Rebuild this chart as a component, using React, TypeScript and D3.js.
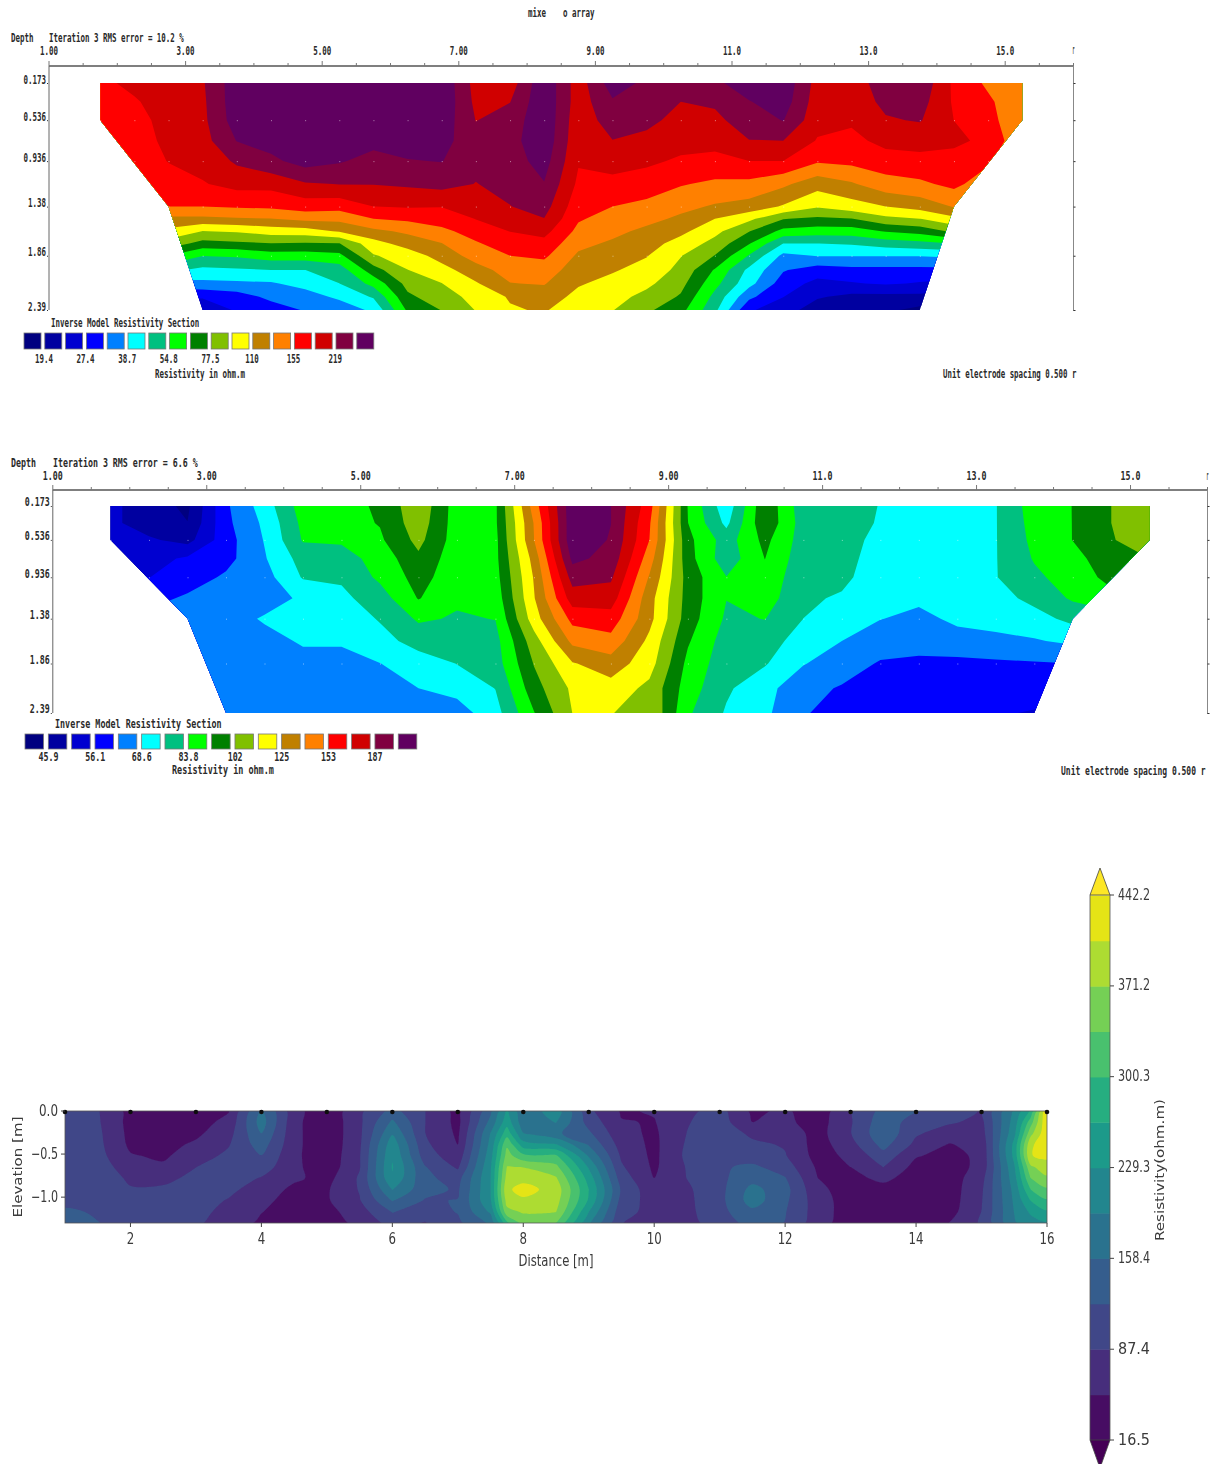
import * as React from 'react';
import * as d3 from 'd3';

const WIDTH = 1224;
const HEIGHT = 1464;

// RES2DINV palette, lowest band first
const rainbow = ['#000080', '#0000a0', '#0000d0', '#0000ff', '#0080ff', '#00ffff', '#00c080', '#00ff00', '#008000', '#80c000', '#ffff00', '#c08000', '#ff8000', '#ff0000', '#d00000', '#800040', '#600060'];

const depthTicks = [0.173, 0.536, 0.936, 1.38, 1.86, 2.39];
const distanceTicks = [1, 3, 5, 7, 9, 11, 13, 15];
const distanceLabels = ['1.00', '3.00', '5.00', '7.00', '9.00', '11.0', '13.0', '15.0'];
const modelColumns = d3.range(1.75, 15.5, 0.5);
// left and right edge of the model section, [distance, depth]
const modelOutline = [[1.75, 0.173], [15.25, 0.173], [15.25, 0.536], [14.25, 1.38], [13.75, 2.39], [3.25, 2.39], [2.75, 1.38], [1.75, 0.536]];

const topLabels = [19.4, 27.4, 38.7, 54.8, 77.5, 110, 155, 219];
const topDepths = [0.173, 0.355, 0.536, 0.736, 0.936, 1.16, 1.38, 1.5, 1.62, 1.74, 1.86, 2.0, 2.13, 2.26, 2.39];
// resistivity per model column, shallow to deep
const topGrid = [
  [175, 172, 168, 165, 162, 160, 158, 130, 110, 90, 70, 50, 40, 32, 28],
  [195, 180, 170, 165, 160, 158, 150, 125, 105, 85, 65, 48, 38, 30, 26],
  [205, 205, 200, 195, 186, 165, 155, 125, 105, 85, 65, 48, 36, 28, 24],
  [215, 212, 210, 205, 195, 182, 155, 125, 92, 73, 55, 44, 37, 28, 24],
  [290, 290, 285, 262, 225, 195, 158, 128, 94, 75, 56, 45, 37.5, 30, 28],
  [300, 300, 295, 280, 250, 195, 160, 130, 100, 77, 60, 46, 38, 34, 30],
  [305, 305, 300, 295, 280, 215, 168, 137, 102, 76, 60, 46, 41, 36, 33],
  [305, 305, 300, 290, 265, 220, 165, 137, 112, 77, 62, 50, 46, 40, 35],
  [305, 305, 295, 275, 245, 220, 184, 155, 125, 103, 91, 72, 58, 47, 40],
  [310, 305, 295, 280, 258, 225, 187, 160, 135, 118, 100, 92, 82, 75, 67],
  [300, 300, 290, 275, 262, 232, 185, 170, 148, 130, 118, 103, 92, 85, 78],
  [205, 210, 218, 235, 228, 218, 190, 185, 168, 152, 140, 122, 108, 98, 93],
  [200, 218, 235, 245, 240, 230, 218, 200, 185, 170, 155, 140, 130, 112, 108],
  [300, 300, 300, 295, 280, 258, 235, 218, 195, 175, 160, 142, 132, 120, 112],
  [200, 200, 195, 192, 187, 178, 165, 158, 148, 137, 127, 120, 112, 105, 98],
  [285, 255, 240, 218, 198, 175, 155, 145, 137, 127, 120, 112, 104, 98, 93],
  [250, 240, 228, 210, 190, 170, 148, 138, 125, 118, 111, 103, 96, 88, 80],
  [245, 219, 208, 195, 180, 157, 137, 126, 115, 103, 93, 88, 82, 76, 69],
  [250, 225, 210, 195, 175, 150, 128, 110, 97, 87, 77, 64, 58, 52, 48],
  [290, 258, 240, 218, 184, 148, 122, 96, 78, 66, 54, 44, 41, 34, 28],
  [295, 285, 262, 219, 184, 135, 108, 78, 62, 46, 37, 33, 30, 27.5, 25],
  [205, 200, 195, 182, 158, 118, 94, 75, 60, 46, 39, 30, 26, 23.5, 21],
  [200, 195, 190, 175, 162, 128, 102, 77, 60, 47, 39, 31, 27, 22, 20],
  [240, 230, 215, 195, 170, 145, 110, 88, 66, 50, 39, 31, 28, 22, 20],
  [250, 235, 222, 195, 176, 150, 118, 92, 70, 52, 39, 31, 27, 22, 18.5],
  [178, 180, 184, 192, 172, 162, 132, 105, 80, 55, 40, 31, 26, 21, 18],
  [150, 160, 162, 176, 160, 140, 120, 100, 78, 55, 40, 31, 26, 21, 18],
  [135, 135, 140, 135, 130, 120, 110, 95, 75, 55, 40, 31, 26, 21, 18],
];

const midLabels = [45.9, 56.1, 68.6, 83.8, 102, 125, 153, 187];
const midDepths = [0.173, 0.355, 0.536, 0.736, 0.936, 1.16, 1.38, 1.62, 1.86, 2.125, 2.39];
const midGrid = [
  [52, 52, 54, 56, 60, 63, 64, 64, 64, 64, 64],
  [48, 48, 51.5, 54, 56, 60, 64, 64, 64, 64, 64],
  [45, 46, 49, 57, 59, 63, 65, 65, 65, 65, 65],
  [61, 60.5, 59.5, 60, 63, 65, 65, 65, 65, 65, 65],
  [72, 70, 69, 68, 66, 65, 69.5, 66, 64.5, 64, 64],
  [88, 86, 84.5, 79, 76.5, 70, 71, 69.5, 66, 64.5, 64],
  [90, 89, 85, 80.5, 77, 74, 71, 69.5, 66, 64, 63],
  [93.5, 93, 91, 87, 85.5, 80, 76.5, 73, 68.5, 64.5, 63],
  [110, 108, 105, 100, 96, 93, 85, 79, 72, 68.6, 65],
  [88, 88, 88, 87, 87, 85, 83, 80, 76, 71, 65.5],
  [91, 91, 90, 90, 89, 87, 84, 81, 80, 76, 73],
  [145, 139, 138, 130, 126, 124, 119, 108, 102.5, 98, 92],
  [222, 222, 222, 212, 195, 178, 158, 142, 124, 115, 113],
  [207, 207, 205, 200, 190, 178, 162, 148, 132, 120, 113],
  [160, 155, 153, 145, 137, 130, 129, 122, 118, 110, 112],
  [92, 92.6, 95, 96, 98, 98, 97, 93.5, 90, 88, 85],
  [71, 74, 80, 79, 84, 84, 82.5, 80, 79, 77, 75],
  [100, 100, 95, 92.6, 90, 88, 84, 80, 76.5, 71, 70],
  [79, 80, 80, 79, 78, 77, 75.8, 72, 69, 64, 62.6],
  [80, 80, 80, 79, 77.5, 75, 72, 68.6, 65, 61.5, 59.5],
  [75.5, 75, 73, 72, 72, 71, 68.8, 65, 61.5, 58.5, 58],
  [72, 72, 72, 72, 71, 70, 66.8, 65, 60.5, 58, 57.5],
  [72, 72, 72, 72, 72, 71, 70, 66, 60.5, 58.5, 57.5],
  [75.5, 75.5, 75.5, 75.5, 75.5, 73, 71, 67, 61, 58.5, 56.5],
  [88, 87, 86, 84.5, 82, 78, 73, 68, 61.5, 58, 55.8],
  [92.6, 92.6, 92.6, 90, 88, 85, 78, 70, 62, 58, 55],
  [102, 102, 101, 97, 95, 90, 80, 70, 62, 58, 55],
  [112, 112, 110, 102, 96, 90, 80, 70, 62, 58, 55],
];

const lowColumns = [1, 1.5, 2, 2.5, 3, 3.5, 4, 4.5, 5, 5.5, 6, 6.5, 7, 7.5, 7.75, 8, 8.5, 9, 9.5, 10, 10.5, 11, 11.5, 12, 12.5, 13, 13.5, 14, 14.5, 15, 15.5, 15.75, 16];
const lowElevations = [0, -0.13, -0.26, -0.39, -0.52, -0.65, -0.78, -0.91, -1.04, -1.17, -1.3];
const lowGrid = [
  [105, 105, 105, 105, 105, 105, 105, 105, 110, 130, 140],
  [90, 92, 95, 97, 100, 104, 107, 107, 110, 118, 124],
  [40, 40, 42, 45, 55, 70, 82, 90, 100, 105, 105],
  [34, 34, 36, 40, 46, 58, 80, 92, 100, 105, 108],
  [36, 38, 45, 58, 72, 87, 95, 100, 102, 100, 93],
  [50, 62, 75, 85, 95, 105, 105, 95, 85, 75, 70],
  [165, 175, 158, 140, 122, 105, 85, 72, 60, 53, 46],
  [65, 62, 62, 62, 60, 60, 58, 44, 40, 38, 36],
  [24, 24, 24, 24, 26, 30, 40, 48, 48, 40, 34],
  [80, 80, 80, 82, 85, 85, 92, 90, 85, 72, 62],
  [135, 165, 190, 215, 225, 232, 225, 195, 160, 125, 100],
  [88, 88, 88, 95, 105, 125, 130, 135, 120, 105, 85],
  [40, 42, 46, 52, 65, 82, 110, 118, 124, 125, 115],
  [150, 170, 195, 205, 215, 225, 228, 228, 225, 200, 165],
  [235, 250, 285, 330, 350, 372, 385, 400, 385, 360, 290],
  [165, 172, 195, 245, 310, 370, 395, 420, 400, 375, 350],
  [215, 195, 165, 232, 305, 345, 375, 392, 385, 372, 335],
  [95, 110, 130, 155, 190, 225, 250, 265, 260, 230, 200],
  [48, 54, 62, 72, 82, 92, 105, 118, 110, 100, 88],
  [55, 50, 46, 44, 44, 46, 52, 62, 70, 75, 78],
  [80, 85, 88, 92, 95, 90, 88, 82, 80, 78, 75],
  [100, 105, 110, 112, 112, 118, 115, 112, 112, 112, 105],
  [45, 52, 80, 95, 105, 130, 145, 170, 175, 150, 135],
  [58, 60, 75, 84, 90, 105, 125, 135, 130, 125, 122],
  [30, 36, 38, 36, 38, 46, 52, 60, 68, 70, 66],
  [84, 84, 86, 75, 60, 52, 42, 36, 34, 33, 33],
  [135, 145, 150, 135, 110, 88, 60, 40, 35, 33, 33],
  [125, 105, 92, 78, 55, 40, 36, 33, 33, 33, 33],
  [105, 92, 70, 50, 40, 35, 33, 33, 34, 38, 52],
  [85, 78, 72, 62, 60, 62, 75, 82, 85, 88, 92],
  [200, 210, 220, 240, 240, 225, 215, 205, 200, 195, 190],
  [270, 320, 360, 400, 405, 365, 335, 300, 265, 235, 215],
  [445, 440, 435, 430, 415, 390, 365, 330, 295, 260, 225],
];
const colorbarTicks = [16.5, 87.4, 158.4, 229.3, 300.3, 371.2, 442.2];
const lowXTicks = [2, 4, 6, 8, 10, 12, 14, 16];
const lowYTicks = [0, -0.5, -1];
const electrodes = d3.range(1, 17);

// the section labels only mark every second contour level
const fillLevels = (labels: number[]) => {
  const step = Math.sqrt(labels[7] / labels[6]);
  return labels.flatMap((v, i) => [v, i < 7 ? Math.sqrt(v * labels[i + 1]) : v * step]);
};

const bandPaths = (grid: number[][], levels: number[], xAt: (d: number) => number, yAt: (d: number) => number, curve: any, transform: (v: number) => number) => {
  const w = grid.length;
  const h = grid[0].length;
  const values = d3.range(h).flatMap(r => grid.map(col => transform(col[r])));
  const contours = d3.contours().size([w, h]).thresholds(levels.map(transform))(values);
  const line = d3.line().curve(curve);
  return contours.map(c =>
    c.coordinates
      .flat(1)
      .map(ring => line(ring.slice(0, -1).map(p => [xAt(p[0] - 0.5), yAt(p[1] - 0.5)] as [number, number])))
      .join(''),
  );
};

// narrow bitmap-looking text: DejaVu Sans Mono squeezed to the char width in the picture
const Mono = ({ x, y, text, charW, anchor = 'start', size = 12 }: any) => {
  const len = text.length * charW;
  const left = anchor === 'middle' ? x - len / 2 : anchor === 'end' ? x - len : x;
  return (
    <text transform={`translate(${left},${y}) scale(${charW / (size * 0.602)},1)`} fontFamily="'DejaVu Sans Mono'" fontWeight={700} fontSize={size} fill="#2a2a2a" dominantBaseline="middle">
      {text}
    </text>
  );
};

const Section = ({ id, grid, depths, labels, xRange, yRange, iteration, head, lg, charW }: any) => {
  const x = d3.scaleLinear().domain([1, 16]).range(xRange);
  const y = d3.scaleLinear().domain([0.173, 2.39]).range(yRange);
  const levels = fillLevels(labels);
  const xAt = d3.scaleLinear().domain(d3.range(modelColumns.length)).range(modelColumns.map(d => x(d)));
  const yAt = d3.scaleLinear().domain(d3.range(depths.length)).range(depths.map((d: number) => y(d)));
  const paths = bandPaths(grid, levels, xAt, yAt, d3.curveLinearClosed, Math.log);
  const outline = modelOutline.map(([a, b]) => [x(a), y(b)] as [number, number]);
  const axisY = head.axisY;
  return (
    <g>
      <clipPath id={id}>
        <polygon points={outline.map(p => p.join(',')).join(' ')} />
      </clipPath>
      <g clipPath={`url(#${id})`}>
        <rect x={xRange[0]} y={yRange[0]} width={xRange[1] - xRange[0]} height={yRange[1] - yRange[0]} fill={rainbow[0]} />
        {paths.map((d, i) => (
          <path key={i} d={d} fill={rainbow[i + 1]} fillRule="evenodd" />
        ))}
      </g>
      {depthTicks.slice(1, 5).flatMap(dp =>
        modelColumns
          .filter(c => d3.polygonContains(outline, [x(c), y(dp)]))
          .map(c => <rect key={`${dp}-${c}`} x={x(c)} y={y(dp)} width={1} height={1} fill="#fff" opacity={0.5} />),
      )}
      <Mono x={11} y={head.textY} text="Depth" charW={charW} />
      <Mono x={head.iterX} y={head.textY} text={iteration} charW={charW} />
      <line x1={xRange[0]} x2={xRange[1]} y1={axisY} y2={axisY} stroke="#555" strokeWidth={1.3} />
      <line x1={xRange[0]} x2={xRange[0]} y1={axisY} y2={yRange[1]} stroke="#666" />
      <line x1={xRange[1]} x2={xRange[1]} y1={axisY} y2={yRange[1] + 1} stroke="#888" />
      {d3.range(1, 16.01, 0.5).map(t => (
        <line key={t} x1={x(t)} x2={x(t)} y1={axisY} y2={axisY - (t % 2 === 1 ? 5 : 3)} stroke="#777" />
      ))}
      {distanceTicks.map((t, i) => (
        <Mono key={t} x={x(t)} y={head.tickY} text={distanceLabels[i]} charW={charW} anchor="middle" />
      ))}
      <Mono x={xRange[1] - 1} y={head.tickY} text="r" charW={2} />
      {depthTicks.map((t, i) => (
        <g key={t}>
          <Mono x={xRange[0] - 3} y={y(t) - head.depthLift} text={t.toFixed(i >= 3 ? 2 : 3)} charW={charW} anchor="end" />
          <rect x={xRange[0] - 2} y={y(t)} width={1} height={1} fill="#333" />
          <rect x={xRange[1]} y={y(t)} width={2} height={1} fill="#333" />
        </g>
      ))}
      <Mono x={lg.titleX} y={lg.titleY} text="Inverse Model Resistivity Section" charW={lg.titleW} />
      {rainbow.map((c, i) => (
        <rect key={c} x={lg.x + i * lg.step} y={lg.y} width={lg.w} height={lg.h} fill={c} stroke="#777" strokeWidth={0.8} />
      ))}
      {labels.map((v: number, i: number) => (
        <Mono key={v} x={lg.x + lg.w + lg.step * (2 * i) + lg.labelDx} y={lg.labelY} text={String(v)} charW={charW} anchor="middle" />
      ))}
      <Mono x={lg.unitX} y={lg.unitY} text="Resistivity in ohm.m" charW={lg.unitW} />
      <Mono x={lg.spacingX} y={lg.unitY} text="Unit electrode spacing 0.500 r" charW={lg.spacingW} />
    </g>
  );
};

const Squeezed = ({ x, y, text, width, anchor = 'middle', size = 15, rotate }: any) => (
  <text
    x={rotate ? undefined : x}
    y={rotate ? undefined : y}
    transform={rotate ? `translate(${x},${y}) rotate(-90)` : undefined}
    textLength={width}
    lengthAdjust="spacingAndGlyphs"
    textAnchor={anchor}
    dominantBaseline="middle"
    fontFamily="'DejaVu Sans'"
    fontSize={size}
    fill="#3a3a3a"
  >
    {text}
  </text>
);

const LowerPanel = () => {
  const x = d3.scaleLinear().domain([1, 16]).range([65, 1047]);
  const y = d3.scaleLinear().domain([0, -1.3]).range([1111, 1223]);
  const xAt = d3.scaleLinear().domain(d3.range(lowColumns.length)).range(lowColumns.map(d => x(d)));
  const yAt = d3.scaleLinear().domain(d3.range(lowElevations.length)).range(lowElevations.map(d => y(d)));
  const step = (colorbarTicks[1] - colorbarTicks[0]) / 2;
  const edges = d3.range(13).map(i => colorbarTicks[0] + i * step);
  const color = (i: number) => d3.interpolateViridis((i + 0.5) / 12);
  const paths = bandPaths(lowGrid, edges.slice(1, 12), xAt, yAt, d3.curveCatmullRomClosed.alpha(0.5), v => v);
  const cb = d3.scaleLinear().domain([16.5, 442.2]).range([1440, 895]);
  return (
    <g filter="url(#soft)">
      <clipPath id="lowClip">
        <rect x={x(1)} y={y(0)} width={x(16) - x(1)} height={y(-1.3) - y(0)} />
      </clipPath>
      <g clipPath="url(#lowClip)">
        <rect x={x(1)} y={y(0)} width={x(16) - x(1)} height={y(-1.3) - y(0)} fill={color(0)} />
        {paths.map((d, i) => (
          <path key={i} d={d} fill={color(i + 1)} fillRule="evenodd" />
        ))}
      </g>
      <rect x={x(1)} y={y(0)} width={x(16) - x(1)} height={y(-1.3) - y(0)} fill="none" stroke="#555" strokeWidth={0.8} />
      {electrodes.map(e => (
        <circle key={e} cx={x(e)} cy={y(0) + 1} r={2.3} fill="#111" />
      ))}
      {lowXTicks.map(t => (
        <g key={t}>
          <line x1={x(t)} x2={x(t)} y1={y(-1.3)} y2={y(-1.3) + 4} stroke="#444" />
          <Squeezed x={x(t)} y={1239} text={String(t)} width={t > 9 ? 15 : 7.5} />
        </g>
      ))}
      {lowYTicks.map(t => (
        <g key={t}>
          <line x1={x(1) - 4} x2={x(1)} y1={y(t)} y2={y(t)} stroke="#444" />
          <Squeezed x={58} y={y(t)} text={t === 0 ? '0.0' : `\u2212${Math.abs(t).toFixed(1)}`} width={t === 0 ? 19 : 27} anchor="end" />
        </g>
      ))}
      <Squeezed x={556} y={1261} text="Distance [m]" width={75} />
      <Squeezed x={18} y={1167} text="Elevation [m]" width={101} size={13} rotate />
      {edges.slice(0, 12).map((v, i) => (
        <rect key={v} x={1090} y={cb(edges[i + 1])} width={20} height={cb(edges[i]) - cb(edges[i + 1]) + 0.5} fill={color(i)} />
      ))}
      <path d={`M1090,${cb(442.2)} L1100,868 L1110,${cb(442.2)} Z`} fill="#fde725" stroke="#444" strokeWidth={0.8} />
      <path d={`M1090,${cb(16.5)} L1100,1468 L1110,${cb(16.5)} Z`} fill="#440154" stroke="#444" strokeWidth={0.8} />
      <line x1={1090} x2={1090} y1={cb(442.2)} y2={cb(16.5)} stroke="#555" strokeWidth={0.8} />
      <line x1={1110} x2={1110} y1={cb(442.2)} y2={cb(16.5)} stroke="#555" strokeWidth={0.8} />
      {colorbarTicks.map(t => (
        <g key={t}>
          <line x1={1110} x2={1114} y1={cb(t)} y2={cb(t)} stroke="#444" />
          <Squeezed x={1118} y={cb(t)} text={String(t)} width={32} anchor="start" />
        </g>
      ))}
      <Squeezed x={1160} y={1170} text="Resistivity(ohm.m)" width={142} size={13} rotate />
    </g>
  );
};

export default function App() {
  return (
    <svg width={WIDTH} height={HEIGHT} style={{ position: 'absolute', left: 0, top: 0, background: '#fff' }}>
      <defs>
        <filter id="soft" x="-5%" y="-5%" width="110%" height="110%">
          <feGaussianBlur stdDeviation="0.6" />
        </filter>
      </defs>
      <Mono x={528} y={13} text="mixe" charW={4.5} />
      <Mono x={563} y={13} text="o array" charW={4.5} />
      <Section
        id="topClip"
        grid={topGrid}
        depths={topDepths}
        labels={topLabels}
        xRange={[49, 1073.5]}
        yRange={[83, 310]}
        iteration="Iteration 3 RMS error = 10.2 %"
        charW={4.5}
        head={{ textY: 38, tickY: 51, axisY: 66, iterX: 49, depthLift: 3 }}
        lg={{ titleX: 51, titleY: 323, titleW: 4.5, x: 24, y: 333, w: 17, h: 16, step: 20.8, labelY: 359, labelDx: 3, unitX: 155, unitY: 374, unitW: 4.5, spacingX: 943, spacingW: 4.45 }}
      />
      <Section
        id="midClip"
        grid={midGrid}
        depths={midDepths}
        labels={midLabels}
        xRange={[52.8, 1207.5]}
        yRange={[506, 713]}
        iteration="Iteration 3 RMS error = 6.6 %"
        charW={5}
        head={{ textY: 464, tickY: 477, axisY: 490, iterX: 53, depthLift: 3 }}
        lg={{ titleX: 55, titleY: 725, titleW: 5.05, x: 25, y: 734, w: 18.5, h: 15, step: 23.33, labelY: 758, labelDx: 5, unitX: 172, unitY: 771, unitW: 5.1, spacingX: 1061, spacingW: 4.83 }}
      />
      <LowerPanel />
    </svg>
  );
}
